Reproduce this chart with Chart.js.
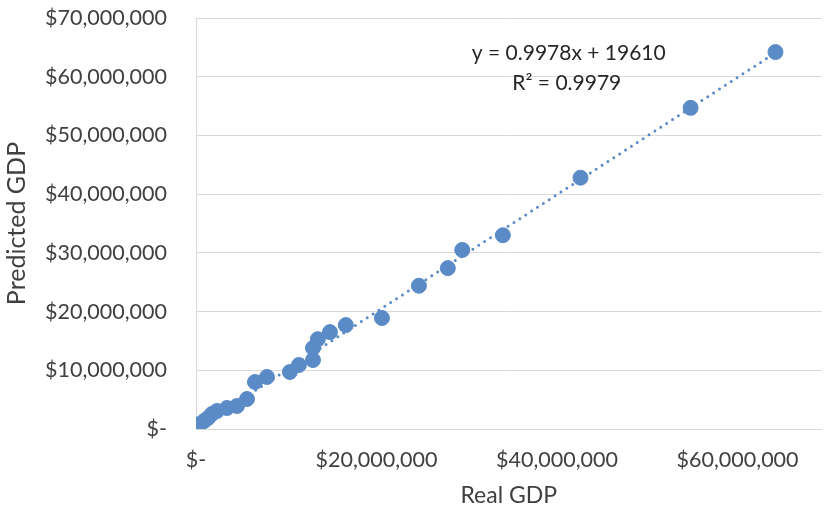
<!DOCTYPE html>
<html>
<head>
<meta charset="utf-8">
<script src="https://cdn.jsdelivr.net/npm/chart.js@4.4.0/dist/chart.umd.min.js"></script>
<style>
  html, body { margin: 0; padding: 0; background: #fff; overflow: hidden; }
  #wrap { width: 830px; height: 509px; }
</style>
</head>
<body>
<div id="wrap"><canvas id="myChart"></canvas></div>
<script>
// real vs predicted GDP (dollars)
let real_gdp = [
    100000, 110000, 440000, 890000, 1330000, 1770000, 2330000, 3430000, 4540000,
    5650000, 6530000, 7860000, 10400000, 11400000, 12960000, 12960000, 13500000,
    14840000, 16600000, 20600000, 24700000, 27900000, 29500000, 34000000,
    42600000, 54800000, 64200000
];
let predicted_gdp = [
    170000, 510000, 850000, 1360000, 1870000, 2560000, 3070000, 3580000, 3920000,
    5110000, 8000000, 8860000, 9710000, 10900000, 11750000, 13800000, 15300000,
    16500000, 17700000, 18900000, 24400000, 27400000, 30500000, 33000000,
    42800000, 54700000, 64200000
];
let y_ticks = [0, 10000000, 20000000, 30000000, 40000000, 50000000, 60000000, 70000000];
let x_ticks = [0, 20000000, 40000000, 60000000];
let slope = 0.9978;
let intercept = 19610;
let eq_lines = ["y = 0.9978x + 19610", "R² = 0.9979"];

const blue = '#5B8BC7';
const font_name = "Lato, 'Open Sans', sans-serif";

/** "$20,000,000" style labels, zero shown as "$-" */
function money(v) {
    if (v === 0) return '$-';
    return '$' + v.toLocaleString('en-US');
}

let x_min = Math.min(...real_gdp);
let x_max = Math.max(...real_gdp);
let trend = [
    {x: x_min, y: slope * x_min + intercept},
    {x: x_max, y: slope * x_max + intercept}
];

// writes the trendline equation above the line
const eq_plugin = {
    id: 'eq_text',
    afterDatasetsDraw(chart) {
        let ctx = chart.ctx;
        let xs = chart.scales.x, ys = chart.scales.y;
        let cx = xs.getPixelForValue(41300000);
        let cy = ys.getPixelForValue(64000000);
        ctx.save();
        ctx.fillStyle = '#262626';
        ctx.font = "21px " + font_name;
        ctx.textAlign = 'center';
        ctx.textBaseline = 'middle';
        ctx.fillText(eq_lines[0], cx, cy);
        ctx.fillText(eq_lines[1], cx - 2, cy + 30);
        ctx.restore();
    }
};

let ctx = document.getElementById('myChart').getContext('2d');
let myChart = new Chart(ctx, {
    type: 'scatter',
    data: {
        datasets: [
            {
                label: 'Linear',
                type: 'line',
                data: trend,
                borderColor: blue,
                borderWidth: 3,
                borderDash: [0, 7],
                borderCapStyle: 'round',
                pointRadius: 0,
                fill: false
            },
            {
                label: 'GDP',
                data: real_gdp.map((v, i) => ({x: v, y: predicted_gdp[i]})),
                backgroundColor: blue,
                borderColor: blue,
                pointRadius: 7.5,
                pointHoverRadius: 7.5
            }
        ]
    },
    options: {
        responsive: true,
        maintainAspectRatio: false,
        animation: false,
        layout: { padding: { top: 18, right: 2, left: 0, bottom: 0 } },
        plugins: {
            legend: { display: false },
            tooltip: { enabled: false }
        },
        scales: {
            x: {
                type: 'linear',
                min: 0,
                max: 69300000,
                afterBuildTicks: (s) => { s.ticks = x_ticks.map(v => ({value: v})); },
                afterFit: (s) => {
                    s.height = 80;
                    s.paddingLeft = 0;
                    s.paddingRight = 0;
                },
                grid: { display: false, drawTicks: false },
                border: { display: true, color: '#d9d9d9', width: 1 },
                ticks: {
                    padding: 18,
                    color: '#404040',
                    font: { family: font_name, size: 21.5 },
                    callback: (v) => money(v)
                },
                title: {
                    display: true,
                    text: 'Real GDP',
                    color: '#404040',
                    font: { family: font_name, size: 23 },
                    padding: { top: 0, bottom: 0 }
                }
            },
            y: {
                type: 'linear',
                min: 0,
                max: 70000000,
                afterBuildTicks: (s) => { s.ticks = y_ticks.map(v => ({value: v})); },
                afterFit: (s) => {
                    s.width = 196;
                    s.paddingTop = 0;
                    s.paddingBottom = 0;
                },
                grid: { color: '#d9d9d9', lineWidth: 1, drawTicks: false },
                border: { display: true, color: '#d9d9d9', width: 1 },
                ticks: {
                    padding: 29,
                    color: '#404040',
                    font: { family: font_name, size: 21.5 },
                    callback: (v) => money(v)
                },
                title: {
                    display: true,
                    text: 'Predicted GDP',
                    color: '#404040',
                    font: { family: font_name, size: 25 },
                    padding: { top: 2, bottom: 0 }
                }
            }
        }
    },
    plugins: [eq_plugin]
});
</script>
</body>
</html>
